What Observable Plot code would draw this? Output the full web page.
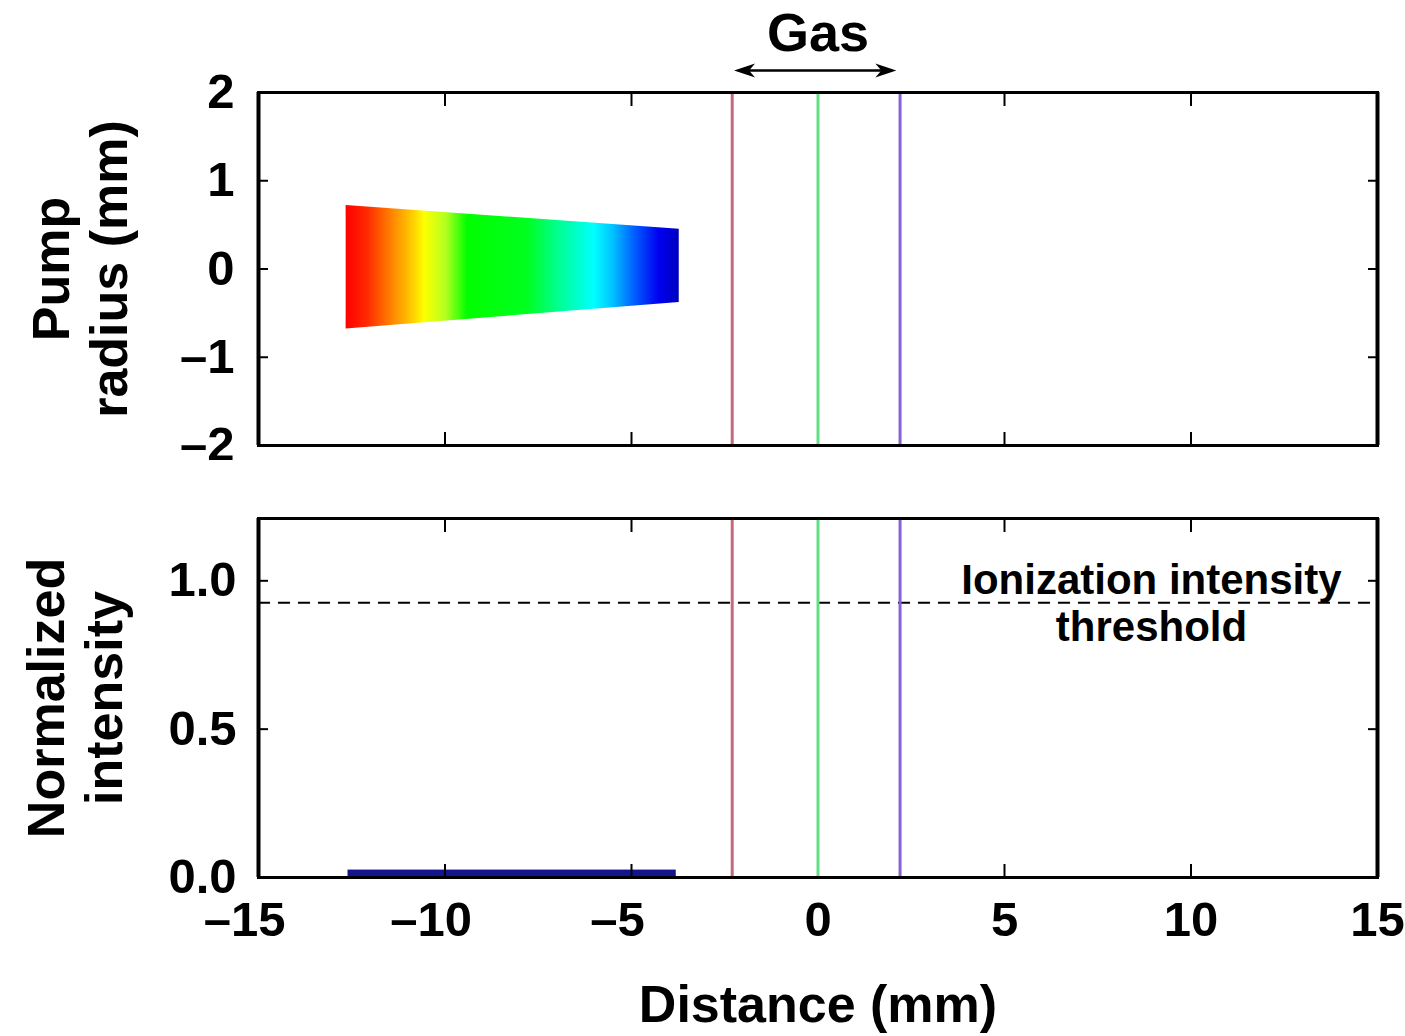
<!DOCTYPE html>
<html><head><meta charset="utf-8">
<script src="https://cdn.jsdelivr.net/npm/d3@7"></script>
<script src="https://cdn.jsdelivr.net/npm/@observablehq/plot@0.6"></script>
<style>
body{margin:0;background:#fff;}
#chart{position:relative;width:1405px;height:1036px;}
#chart svg{position:absolute;left:0;overflow:visible;}
</style></head><body><div id="chart"></div>
<script>
// ---- data ----
const xTicks = [-15, -10, -5, 0, 5, 10, 15];
const radiusTicks = [-2, -1, 0, 1, 2];
const intensityTicks = [0, 0.5, 1.0];
const gasLinePositions = [-2.3, 0, 2.2];
const gasExtent = [-2.25, 2.1];
const gasLabel = "Gas";
const beamX = [-12.65, -3.72];
const beamTop = [0.72, 0.45];
const beamBottom = [-0.68, -0.38];
const pulseX = [-12.6, -3.8];
const pulseIntensity = 0.025;
const threshold = 0.926;
const thresholdLabel = "Ionization intensity\nthreshold";
const thresholdLabelX = 8.94;

// ---- styles ----
const FONT = "'Liberation Sans', Arial, Helvetica, sans-serif";
const TICK_FS = 49, TITLE_FS = 52;
const gasLineColors = ["#c8687a", "#62e086", "#8662d6"];
const beamStops = [[0,"#ff0000"],[0.065,"#ff2a00"],[0.145,"#ff8c00"],[0.2,"#ffcc00"],[0.235,"#ffff00"],[0.3,"#b4ff20"],[0.365,"#00ff00"],[0.545,"#00ff20"],[0.63,"#00ff88"],[0.745,"#00ffff"],[0.8,"#00c4ff"],[0.865,"#0060ff"],[0.94,"#0000f0"],[1,"#0000c0"]];

const fmt = d => (d < 0 ? "\u2013" : "") + Math.abs(d);
const beamData = beamX.map((x, i) => ({x, lo: beamBottom[i], hi: beamTop[i]}));
const arrowHead = {
  draw(ctx) {
    ctx.moveTo(0, 0);
    ctx.lineTo(-21, -7);
    ctx.lineTo(-15, 0);
    ctx.lineTo(-21, 7);
    ctx.closePath();
  }
};

const common = {
  width: 1405, marginLeft: 258, marginRight: 28,
  x: {domain: [-15, 15]},
  style: {fontFamily: FONT, color: "black", background: "white", overflow: "visible"}
};
const gasRules = () => gasLinePositions.map((x, i) => Plot.ruleX([x], {stroke: gasLineColors[i], strokeWidth: 3}));
const frameMarks = () => [
  Plot.frame({stroke: "black", strokeWidth: 3}),
  Plot.ruleX([-15, 15], {stroke: "black", strokeWidth: 4})
];
const tickMarks = (yt) => [
  Plot.axisX(xTicks, {anchor: "bottom", tickSize: -13, tickFormat: () => "", label: null, strokeWidth: 2}),
  Plot.axisX(xTicks, {anchor: "top", tickSize: -13, tickFormat: () => "", label: null, strokeWidth: 2}),
  Plot.axisY(yt, {anchor: "left", tickSize: -10, tickFormat: () => "", label: null, strokeWidth: 2}),
  Plot.axisY(yt, {anchor: "right", tickSize: -10, tickFormat: () => "", label: null, strokeWidth: 2})
];
const yTitle = (t, dx) => Plot.text([t], {text: d => d, frameAnchor: "left", dx, rotate: -90, textAnchor: "middle", lineAnchor: "middle", lineHeight: 1.12, fontSize: TITLE_FS, fontWeight: "bold"});

const topPlot = Plot.plot({
  ...common,
  height: 460, marginTop: 92, marginBottom: 15,
  y: {domain: [-2, 2]},
  marks: [
    Plot.areaY(beamData, {x: "x", y1: "lo", y2: "hi", fill: "url(#beamGrad)"}),
    ...tickMarks(radiusTicks),
    ...gasRules(),
    Plot.axisY(radiusTicks, {anchor: "left", tickSize: 0, tickPadding: 24, tickFormat: fmt, fontSize: TICK_FS, fontWeight: "bold", label: null}),
    ...frameMarks(),
    Plot.text([{x: 0, t: gasLabel}], {x: "x", text: "t", frameAnchor: "top", lineAnchor: "middle", dy: -59, fontSize: 54, fontWeight: "bold"}),
    Plot.ruleY([2], {x1: gasExtent[0] + 0.3, x2: gasExtent[1] - 0.3, dy: -22, strokeWidth: 2.5}),
    Plot.dot([{x: gasExtent[0], r: 180}, {x: gasExtent[1], r: 0}], {x: "x", rotate: "r", frameAnchor: "top", dy: -22, symbol: arrowHead, fill: "black", stroke: null}),
    yTitle("Pump\nradius (mm)", -179)
  ]
});

const defs = d3.select(topPlot).insert("defs", ":first-child");
const grad = defs.append("linearGradient").attr("id", "beamGrad").attr("x1", 0).attr("x2", 1).attr("y1", 0).attr("y2", 0);
beamStops.forEach(([o, c]) => grad.append("stop").attr("offset", o).attr("stop-color", c));

const negTicks = xTicks.filter(d => d < 0);
const posTicks = xTicks.filter(d => d >= 0);

const bottomPlot = Plot.plot({
  ...common,
  height: 576, marginTop: 58, marginBottom: 159,
  y: {domain: [0, 1.21]},
  marks: [
    Plot.rect([{x1: pulseX[0], x2: pulseX[1], v: pulseIntensity}], {x1: "x1", x2: "x2", y1: 0, y2: "v", fill: "#14148c"}),
    Plot.ruleY([threshold], {stroke: "black", strokeWidth: 2, strokeDasharray: "12,8"}),
    ...tickMarks(intensityTicks),
    ...gasRules(),
    Plot.text([{x: thresholdLabelX, y: threshold, t: thresholdLabel}], {x: "x", y: "y", text: "t", lineAnchor: "middle", lineHeight: 1.1, fontSize: 42, fontWeight: "bold"}),
    Plot.axisY(intensityTicks, {anchor: "left", tickSize: 0, tickPadding: 22, tickFormat: d3.format(".1f"), fontSize: TICK_FS, fontWeight: "bold", label: null}),
    Plot.axisX(negTicks, {anchor: "bottom", tickSize: 0, tickPadding: 24, dx: -14, tickFormat: fmt, fontSize: TICK_FS, fontWeight: "bold", label: null}),
    Plot.axisX(posTicks, {anchor: "bottom", tickSize: 0, tickPadding: 24, tickFormat: fmt, fontSize: TICK_FS, fontWeight: "bold", label: null}),
    ...frameMarks(),
    Plot.text(["Distance (mm)"], {text: d => d, frameAnchor: "bottom", lineAnchor: "middle", dy: 128, fontSize: TITLE_FS, fontWeight: "bold"}),
    yTitle("Normalized\nintensity", -184)
  ]
});

topPlot.style.top = "0px";
bottomPlot.style.top = "460px";
const chart = document.getElementById("chart");
chart.appendChild(topPlot);
chart.appendChild(bottomPlot);
</script></body></html>
